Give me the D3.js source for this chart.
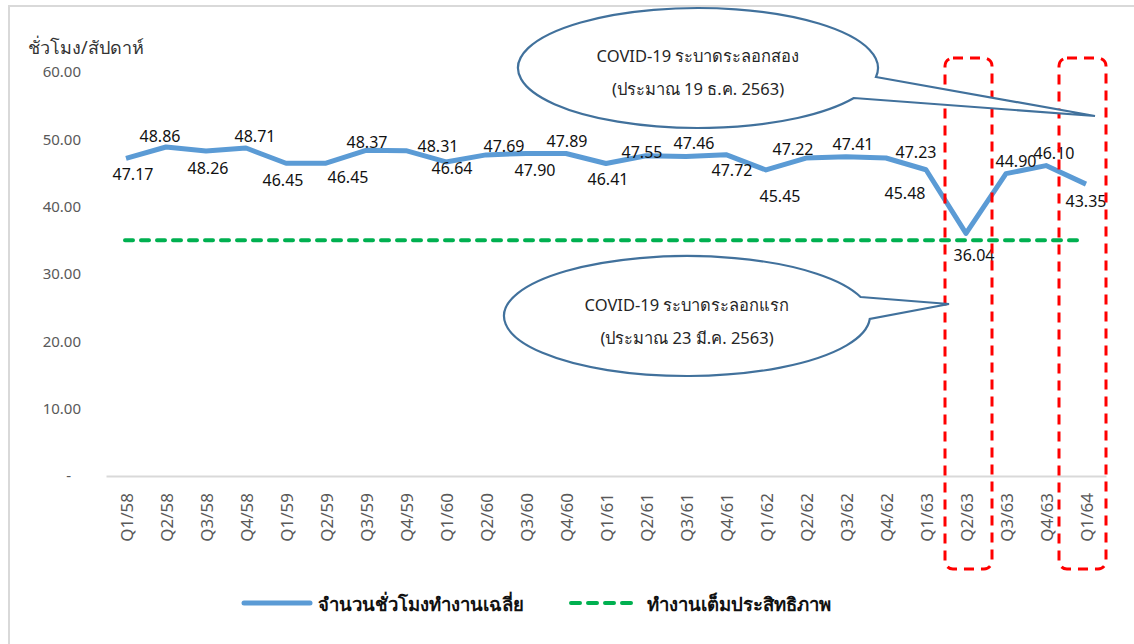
<!DOCTYPE html>
<html>
<head>
<meta charset="utf-8">
<script src="https://cdn.jsdelivr.net/npm/d3@7"></script>
<style>
  body { margin: 0; background: #fff; }
  svg { display: block; font-family: "Noto Sans", "Open Sans", sans-serif; }
</style>
</head>
<body>
<svg id="chart" width="1134" height="644"></svg>
<script>
// quarters (Thai fiscal years 2558-2564)
var quarters = ["Q1/58","Q2/58","Q3/58","Q4/58","Q1/59","Q2/59","Q3/59","Q4/59",
                "Q1/60","Q2/60","Q3/60","Q4/60","Q1/61","Q2/61","Q3/61","Q4/61",
                "Q1/62","Q2/62","Q3/62","Q4/62","Q1/63","Q2/63","Q3/63","Q4/63","Q1/64"];
// average weekly working hours
var avgHours = [47.17, 48.86, 48.26, 48.71, 46.45, 46.45, 48.37, 48.31,
                46.64, 47.69, 47.90, 47.89, 46.41, 47.55, 47.46, 47.72,
                45.45, 47.22, 47.41, 47.23, 45.48, 36.04, 44.90, 46.10, 43.35];
// full-efficiency working hours
var fullHours = 35;
var yTicks = [0, 10, 20, 30, 40, 50, 60];
var highlightQuarters = ["Q2/63", "Q1/64"];
var seriesNames = ["จำนวนชั่วโมงทำงานเฉลี่ย", "ทำงานเต็มประสิทธิภาพ"];

// label nudges (px) as they were dragged in the original
var labelNudge = [[7,16],[-6,-11],[2,17],[9,-12],[-3,17],[22,14],[1,-8],[32,-5],
                  [6,6],[18,-9],[9,17],[1,-13],[2,15],[-4,-4],[8,-13],[6,15],
                  [14,26],[-13,-9],[7,-13],[30,-6],[-21,23],[8,22],[10,-13],[8,-13],[0,17]];

var svg = d3.select("#chart");

// outer frame
svg.append("rect")
    .attr("x", 9).attr("y", 6)
    .attr("width", 1200).attr("height", 700)
    .attr("fill", "none")
    .attr("stroke", "#d9d9d9")
    .attr("stroke-width", 2);

var x = d3.scaleBand().domain(quarters).range([106, 1106]).padding(0);
var y = d3.scaleLinear().domain([0, 60]).range([476, 72]);
var cx = function(q) { return x(q) + x.bandwidth() / 2; };

// y axis title
svg.append("text")
    .attr("x", 28).attr("y", 47)
    .attr("dominant-baseline", "central")
    .style("font-size", "18px")
    .style("fill", "#333")
    .text("ชั่วโมง/สัปดาห์");

// y axis
var yAxis = svg.append("g")
    .attr("transform", "translate(84,0)")
    .call(d3.axisLeft(y).tickValues(yTicks).tickSize(0).tickPadding(3)
        .tickFormat(function(d) { return d === 0 ? "-" : d.toFixed(2); }));
yAxis.select(".domain").remove();
yAxis.selectAll("text")
    .style("font-size", "15px")
    .style("font-family", "Noto Sans, sans-serif")
    .style("fill", "#595959")
    .attr("dx", function(d) { return d === 0 ? -10 : 0; });

// x axis
var xAxis = svg.append("g")
    .attr("transform", "translate(0,476)")
    .call(d3.axisBottom(x).tickSize(0));
xAxis.select(".domain").attr("stroke", "#d9d9d9").attr("stroke-width", 2);
xAxis.selectAll("text")
    .style("font-size", "17px")
    .style("font-family", "Noto Sans, sans-serif")
    .style("fill", "#595959")
    .attr("text-anchor", "end")
    .attr("dominant-baseline", "central")
    .attr("transform", "rotate(-90)")
    .attr("x", -17)
    .attr("y", 0)
    .attr("dy", null);

// full-efficiency dashed line
svg.append("line")
    .attr("x1", cx(quarters[0]) - 1)
    .attr("x2", cx(quarters[quarters.length - 1]) - 6)
    .attr("y1", y(fullHours)).attr("y2", y(fullHours))
    .attr("stroke", "#00b050")
    .attr("stroke-width", 4)
    .attr("stroke-dasharray", "8,8")
    .attr("stroke-linecap", "round");

// average hours line
var line = d3.line()
    .x(function(d, i) { return cx(quarters[i]); })
    .y(function(d) { return y(d); });

svg.append("path")
    .datum(avgHours)
    .attr("d", line)
    .attr("fill", "none")
    .attr("stroke", "#5b9bd5")
    .attr("stroke-width", 5)
    .attr("stroke-linejoin", "round");

// data labels
svg.append("g").selectAll("text")
    .data(avgHours)
    .enter().append("text")
    .attr("x", function(d, i) { return cx(quarters[i]) + labelNudge[i][0]; })
    .attr("y", function(d, i) { return y(d) + labelNudge[i][1]; })
    .attr("text-anchor", "middle")
    .attr("dominant-baseline", "central")
    .style("font-size", "16px")
    .style("fill", "#111")
    .text(function(d) { return d.toFixed(2); });

// highlight boxes
var boxShift = [2, -4];
svg.append("g").selectAll("rect")
    .data(highlightQuarters)
    .enter().append("rect")
    .attr("x", function(d, i) { return cx(d) - 23 + boxShift[i]; })
    .attr("y", 58)
    .attr("width", 47)
    .attr("height", 511)
    .attr("rx", 8)
    .attr("fill", "none")
    .attr("stroke", "#ff0000")
    .attr("stroke-width", 3)
    .attr("stroke-dasharray", "10,7");

// callouts
function callout(c) {
    var ax = c.cx + c.rx * Math.sqrt(1 - Math.pow((c.ay - c.cy) / c.ry, 2));
    var bx = c.cx + c.rx * Math.sqrt(1 - Math.pow((c.by - c.cy) / c.ry, 2));
    var p = "M" + ax + "," + c.ay + " L" + c.tx + "," + c.ty + " L" + bx + "," + c.by +
            " A" + c.rx + "," + c.ry + " 0 1 1 " + ax + "," + c.ay + " Z";
    svg.append("path")
        .attr("d", p)
        .attr("fill", "#fff")
        .attr("stroke", "#41719c")
        .attr("stroke-width", 2.2)
        .attr("stroke-linejoin", "miter");
    c.lines.forEach(function(t, i) {
        svg.append("text")
            .attr("x", c.cx)
            .attr("y", c.textY + i * 33)
            .attr("text-anchor", "middle")
            .attr("dominant-baseline", "central")
            .style("font-size", "16.5px")
            .style("fill", "#262626")
            .text(t);
    });
}

callout({cx: 698, cy: 68, rx: 180, ry: 60, ay: 77, by: 98, tx: 1095, ty: 116,
         textY: 55, lines: ["COVID-19 ระบาดระลอกสอง", "(ประมาณ 19 ธ.ค. 2563)"]});
callout({cx: 687, cy: 316, rx: 183, ry: 60, ay: 297, by: 319, tx: 949, ty: 304,
         textY: 304, lines: ["COVID-19 ระบาดระลอกแรก", "(ประมาณ 23 มี.ค. 2563)"]});

// legend
var legend = svg.append("g").attr("transform", "translate(0,603)");
legend.append("line")
    .attr("x1", 244).attr("x2", 310)
    .attr("stroke", "#5b9bd5").attr("stroke-width", 5)
    .attr("stroke-linecap", "round");
legend.append("text")
    .attr("x", 318).attr("dominant-baseline", "central")
    .style("font-size", "18.5px").style("font-weight", "bold").style("fill", "#111")
    .text(seriesNames[0]);
legend.append("line")
    .attr("x1", 571).attr("x2", 638)
    .attr("stroke", "#00b050").attr("stroke-width", 4)
    .attr("stroke-dasharray", "9,8")
    .attr("stroke-linecap", "round");
legend.append("text")
    .attr("x", 647).attr("dominant-baseline", "central")
    .style("font-size", "18.5px").style("font-weight", "bold").style("fill", "#111")
    .text(seriesNames[1]);
</script>
</body>
</html>
